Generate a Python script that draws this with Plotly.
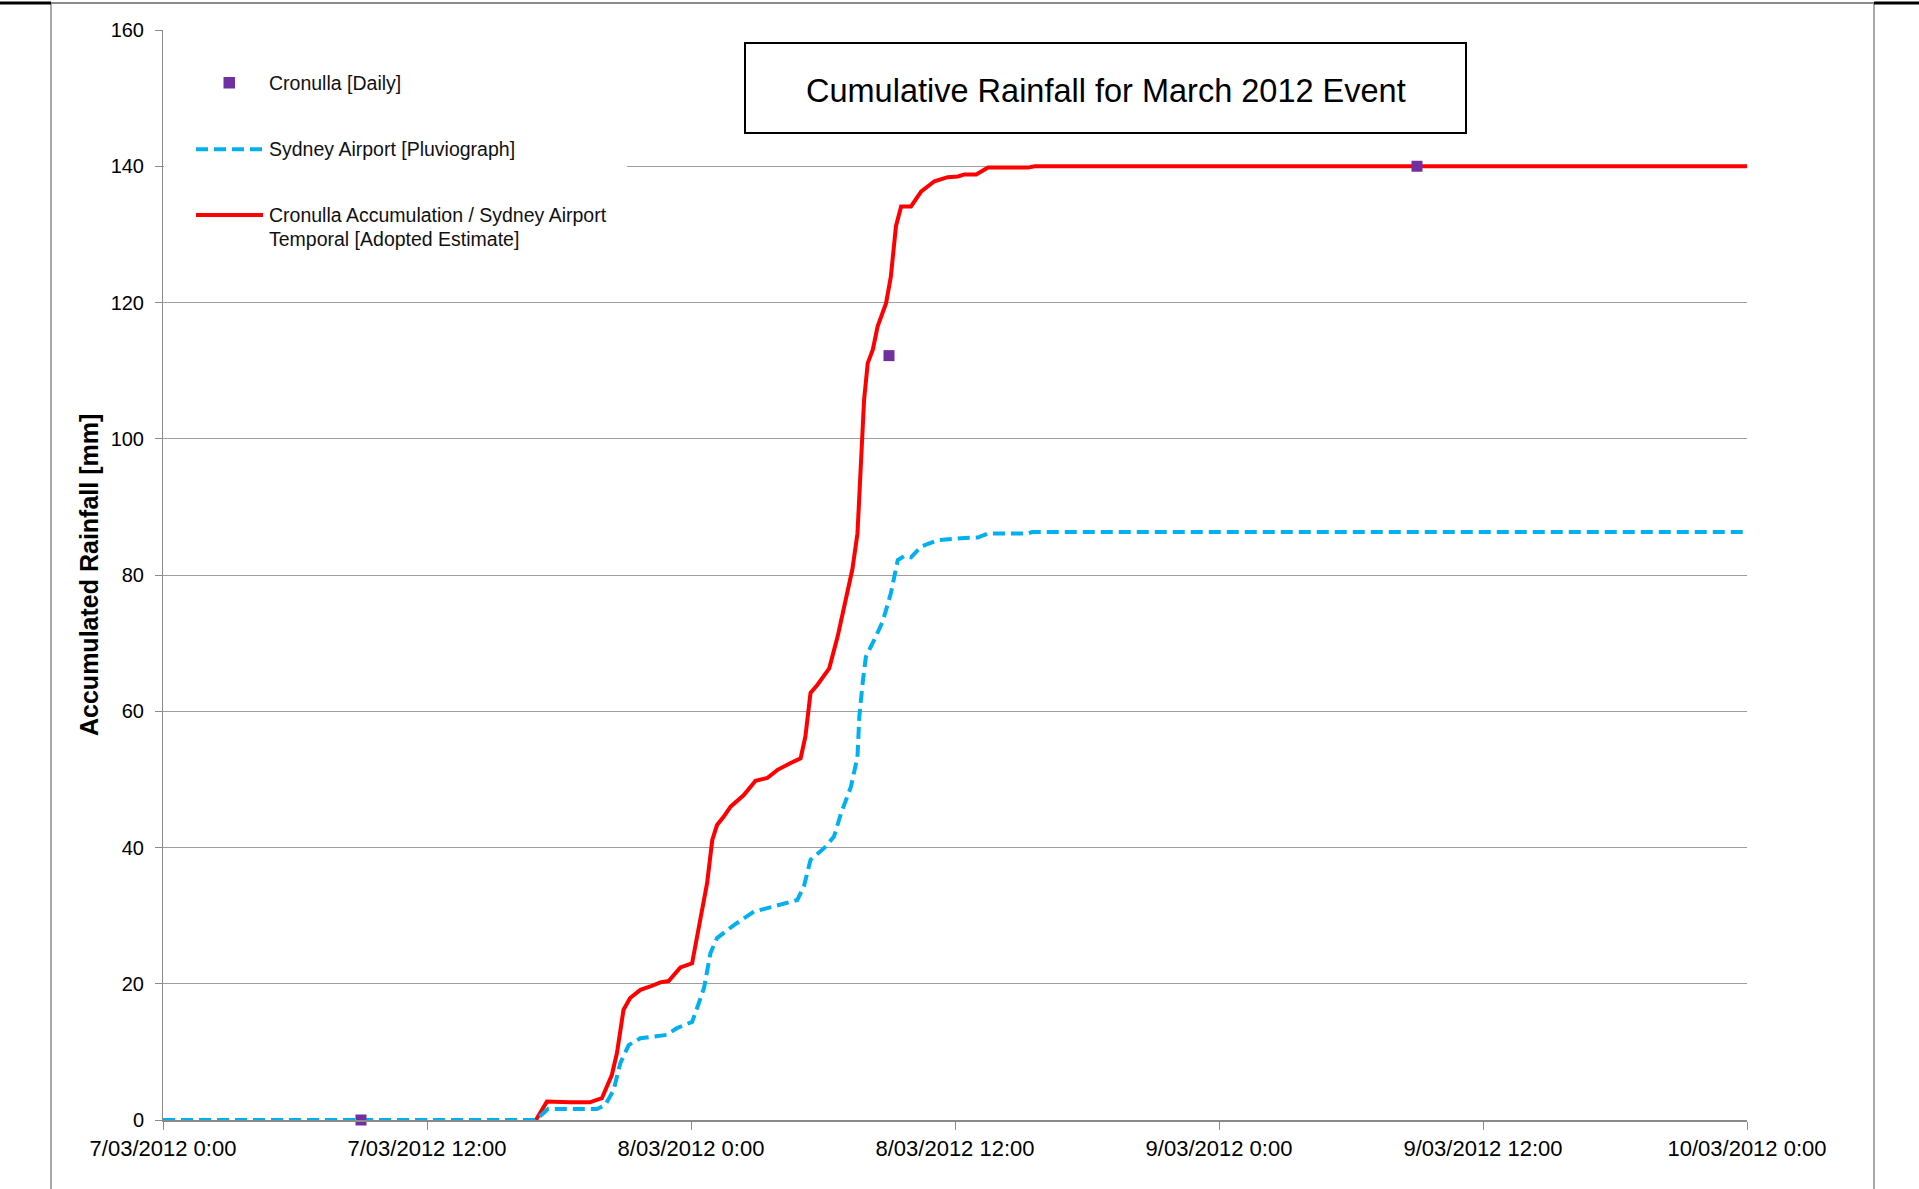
import plotly.graph_objects as go

# ---------------- data ----------------
daily_times = ["2012-03-07 09:00", "2012-03-08 09:00", "2012-03-09 09:00"]
daily_mm = [0.0, 112.2, 140.0]

pluvio_times = [
    "2012-03-07 00:00", "2012-03-07 16:57", "2012-03-07 17:30", "2012-03-07 19:43",
    "2012-03-07 20:06", "2012-03-07 20:29", "2012-03-07 20:47", "2012-03-07 21:10",
    "2012-03-07 21:42", "2012-03-07 22:54", "2012-03-07 23:22", "2012-03-08 00:03",
    "2012-03-08 00:21", "2012-03-08 00:36", "2012-03-08 00:53", "2012-03-08 01:11",
    "2012-03-08 01:57", "2012-03-08 02:52", "2012-03-08 03:28", "2012-03-08 04:50",
    "2012-03-08 05:08", "2012-03-08 05:26", "2012-03-08 06:03", "2012-03-08 06:30",
    "2012-03-08 06:49", "2012-03-08 07:16", "2012-03-08 07:34", "2012-03-08 07:39",
    "2012-03-08 07:48", "2012-03-08 07:57", "2012-03-08 08:20", "2012-03-08 08:43",
    "2012-03-08 09:05", "2012-03-08 09:24", "2012-03-08 09:42", "2012-03-08 10:00",
    "2012-03-08 10:28", "2012-03-08 11:13", "2012-03-08 12:17", "2012-03-08 13:02",
    "2012-03-08 13:30", "2012-03-08 15:18", "2012-03-08 15:30", "2012-03-10 00:00",
]
pluvio_mm = [
    0.0, 0.0, 1.6, 1.6,
    2.2, 4.4, 8.3, 11.0,
    12.0, 12.5, 13.5, 14.4,
    17.1, 19.5, 24.5, 26.7,
    28.6, 30.6, 31.1, 32.3,
    34.3, 38.2, 39.9, 41.6,
    45.0, 48.9, 53.3, 59.2,
    64.1, 68.0, 70.5, 73.2,
    77.3, 82.2, 82.8, 82.6,
    84.2, 85.1, 85.4, 85.5,
    86.1, 86.1, 86.3, 86.3,
]

adopted_times = [
    "2012-03-07 16:57", "2012-03-07 17:27", "2012-03-07 18:30", "2012-03-07 19:24",
    "2012-03-07 19:57", "2012-03-07 20:24", "2012-03-07 20:38", "2012-03-07 20:56",
    "2012-03-07 21:14", "2012-03-07 21:42", "2012-03-07 22:09", "2012-03-07 22:36",
    "2012-03-07 22:59", "2012-03-07 23:12", "2012-03-07 23:31", "2012-03-08 00:03",
    "2012-03-08 00:17", "2012-03-08 00:30", "2012-03-08 00:44", "2012-03-08 00:58",
    "2012-03-08 01:11", "2012-03-08 01:29", "2012-03-08 01:48", "2012-03-08 02:24",
    "2012-03-08 02:56", "2012-03-08 03:28", "2012-03-08 03:56", "2012-03-08 04:32",
    "2012-03-08 04:59", "2012-03-08 05:12", "2012-03-08 05:26", "2012-03-08 05:45",
    "2012-03-08 06:17", "2012-03-08 06:40", "2012-03-08 07:07", "2012-03-08 07:20",
    "2012-03-08 07:34", "2012-03-08 07:43", "2012-03-08 07:52", "2012-03-08 08:02",
    "2012-03-08 08:16", "2012-03-08 08:29", "2012-03-08 08:52", "2012-03-08 09:05",
    "2012-03-08 09:19", "2012-03-08 09:33", "2012-03-08 10:00", "2012-03-08 10:28",
    "2012-03-08 11:04", "2012-03-08 11:40", "2012-03-08 12:08", "2012-03-08 12:26",
    "2012-03-08 12:58", "2012-03-08 13:30", "2012-03-08 15:19", "2012-03-08 15:37",
    "2012-03-10 00:00",
]
adopted_mm = [
    0.0, 2.7, 2.6, 2.6,
    3.2, 6.6, 9.8, 16.2,
    17.9, 19.1, 19.6, 20.2,
    20.4, 21.3, 22.4, 23.0,
    26.9, 30.3, 34.8, 41.1,
    43.3, 44.5, 46.0, 47.7,
    49.8, 50.2, 51.4, 52.4,
    53.1, 56.3, 62.7, 63.9,
    66.3, 71.0, 77.3, 80.8,
    86.1, 95.4, 105.7, 111.1,
    113.1, 116.5, 119.9, 123.8,
    131.2, 134.1, 134.1, 136.3,
    137.8, 138.4, 138.5, 138.8,
    138.8, 139.8, 139.8, 140.0,
    140.0,
]

x_tick_vals = ["2012-03-07 00:00", "2012-03-07 12:00", "2012-03-08 00:00", "2012-03-08 12:00",
               "2012-03-09 00:00", "2012-03-09 12:00", "2012-03-10 00:00"]
x_tick_text = ["7/03/2012 0:00", "7/03/2012 12:00", "8/03/2012 0:00", "8/03/2012 12:00",
               "9/03/2012 0:00", "9/03/2012 12:00", "10/03/2012 0:00"]
y_tick_vals = [0, 20, 40, 60, 80, 100, 120, 140, 160]

name_daily = "Cronulla [Daily]"
name_pluvio = "Sydney Airport [Pluviograph]"
name_adopted_1 = "Cronulla Accumulation / Sydney Airport"
name_adopted_2 = "Temporal [Adopted Estimate]"
chart_title = "Cumulative Rainfall for March 2012 Event"
y_title = "Accumulated Rainfall [mm]"

# ---------------- layout geometry ----------------
W, H = 1919, 1189
ML, MR, MT, MB = 163, 172, 30, 69
PW = W - ML - MR
PH = H - MT - MB


def px_x(px):
    return (px - ML) / PW


def px_y(py):
    return (H - MB - py) / PH


RED = "#FF0000"
BLUE = "#00B0F0"
PURPLE = "#7030A0"
GRID = "#9E9E9E"
AXIS = "#8A8A8A"
FONT = "Liberation Sans, Arial, sans-serif"

fig = go.Figure()
fig.add_trace(go.Scatter(x=adopted_times, y=adopted_mm, mode="lines",
                         name=name_adopted_1 + " " + name_adopted_2, cliponaxis=False,
                         line=dict(color=RED, width=4)))
fig.add_trace(go.Scatter(x=pluvio_times, y=pluvio_mm, mode="lines", name=name_pluvio,
                         cliponaxis=False,
                         line=dict(color=BLUE, width=4, dash="12px,6px")))
fig.add_trace(go.Scatter(x=daily_times, y=daily_mm, mode="markers", name=name_daily,
                         cliponaxis=False,
                         marker=dict(symbol="square", size=11, color=PURPLE,
                                     line=dict(width=0))))

shapes = []
# legend background (hides gridline like the Excel legend box)
shapes.append(dict(type="rect", xref="paper", yref="paper", layer="above",
                   x0=px_x(164), x1=px_x(627), y0=px_y(45), y1=px_y(256),
                   fillcolor="white", line=dict(width=0)))
# legend symbols
shapes.append(dict(type="rect", xref="paper", yref="paper", layer="above",
                   x0=px_x(223.5), x1=px_x(235), y0=px_y(77), y1=px_y(88.5),
                   fillcolor=PURPLE, line=dict(width=0)))
shapes.append(dict(type="line", xref="paper", yref="paper", layer="above",
                   x0=px_x(196), x1=px_x(263), y0=px_y(149.3), y1=px_y(149.3),
                   line=dict(color=BLUE, width=4, dash="12px,6px")))
shapes.append(dict(type="line", xref="paper", yref="paper", layer="above",
                   x0=px_x(196), x1=px_x(263), y0=px_y(215), y1=px_y(215),
                   line=dict(color=RED, width=4)))
# title box
shapes.append(dict(type="rect", xref="paper", yref="paper", layer="above",
                   x0=px_x(745), x1=px_x(1466), y0=px_y(43), y1=px_y(133),
                   fillcolor="white", line=dict(color="black", width=2)))
# outer chart-area frame
for (x0, y0, x1, y1, col, w) in [
    (51, 3, 1874, 3, "#8C8C8C", 2),
    (51, 3, 51, 1189, "#8C8C8C", 1.5),
    (1874, 3, 1874, 1189, "#8C8C8C", 1.5),
    (0, 3, 51, 3, "black", 3),
    (1874, 3, 1919, 3, "black", 3),
]:
    shapes.append(dict(type="line", xref="paper", yref="paper", layer="above",
                       x0=px_x(x0), x1=px_x(x1), y0=px_y(y0), y1=px_y(y1),
                       line=dict(color=col, width=w)))

annotations = []
for txt, py in [(name_daily, 82.7), (name_pluvio, 149.3), (name_adopted_1, 215), (name_adopted_2, 238.5)]:
    annotations.append(dict(text=txt, xref="paper", yref="paper", x=px_x(267), y=px_y(py),
                            xanchor="left", yanchor="middle", showarrow=False,
                            font=dict(family=FONT, size=19.5, color="#111111")))
annotations.append(dict(text=chart_title, xref="paper", yref="paper",
                        x=px_x(1105.5), y=px_y(91), xanchor="center", yanchor="middle",
                        showarrow=False, font=dict(family=FONT, size=32.5, color="black")))
annotations.append(dict(text="<b>" + y_title + "</b>", xref="paper", yref="paper",
                        x=px_x(89), y=px_y(575), xanchor="center", yanchor="middle",
                        textangle=-90, showarrow=False,
                        font=dict(family=FONT, size=25, color="black")))

fig.update_layout(
    width=W, height=H,
    margin=dict(l=ML, r=MR, t=MT, b=MB, pad=0),
    paper_bgcolor="white", plot_bgcolor="white",
    showlegend=False,
    shapes=shapes,
    annotations=annotations,
    xaxis=dict(type="date", range=[x_tick_vals[0], x_tick_vals[-1]],
               tickmode="array", tickvals=x_tick_vals, ticktext=x_tick_text,
               showgrid=False, zeroline=False,
               showline=True, linecolor=AXIS, linewidth=2,
               ticks="outside", ticklen=8, tickwidth=1, tickcolor=AXIS,
               tickfont=dict(family=FONT, size=22, color="black"),
               ticklabelstandoff=0),
    yaxis=dict(range=[0, 160], tickmode="array", tickvals=y_tick_vals,
               showgrid=True, gridcolor=GRID, gridwidth=1, zeroline=False,
               showline=True, linecolor=AXIS, linewidth=1,
               ticks="outside", ticklen=7, tickwidth=1, tickcolor=AXIS,
               tickfont=dict(family=FONT, size=20, color="black"),
               ticklabelstandoff=7),
)

fig.write_html("out.html", config={"displayModeBar": False},
               post_script="document.body.style.margin='0';document.body.style.overflow='hidden';")
